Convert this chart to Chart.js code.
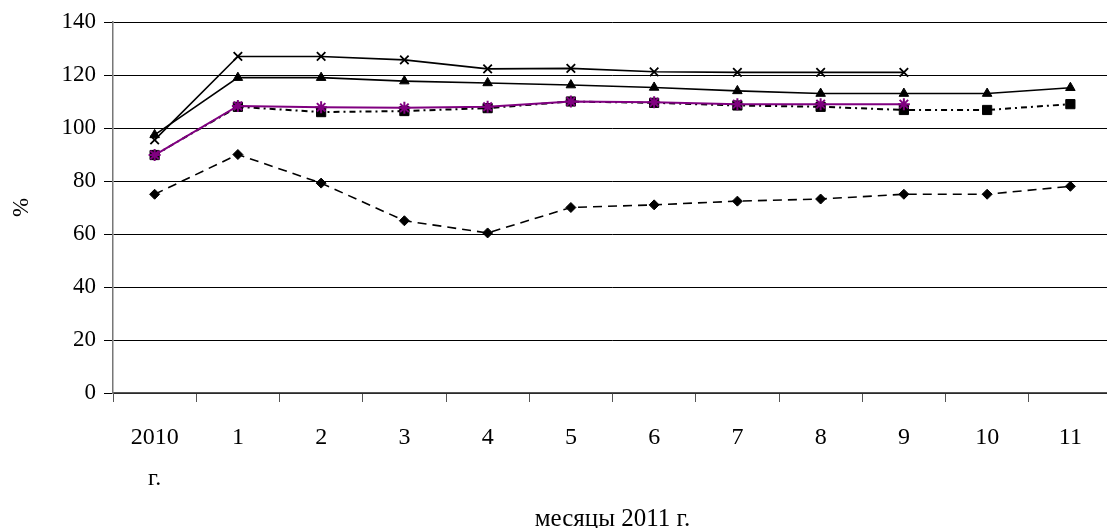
<!DOCTYPE html>
<html>
<head>
<meta charset="utf-8">
<script src="https://cdn.jsdelivr.net/npm/chart.js@4.4.0/dist/chart.umd.min.js"></script>
<style>
  html, body { margin: 0; padding: 0; background: #fff; overflow: hidden; }
  #wrap { width: 1120px; height: 528px; position: relative; }
</style>
</head>
<body>
<div id="wrap"><canvas id="c" width="1120" height="528"></canvas></div>
<script>
const categories = [['2010', 'г.'], '1', '2', '3', '4', '5', '6', '7', '8', '9', '10', '11'];
const seriesCross = [95.5, 127, 127, 125.7, 122.3, 122.5, 121.2, 121, 121, 121, null, null];
const seriesTriangle = [97.4, 119, 119, 117.7, 117, 116.2, 115.3, 114, 113, 113, 113, 115.2];
const seriesSquare = [89.8, 108, 106, 106.4, 107.5, 110, 109.5, 108.5, 108, 106.8, 106.8, 109];
const seriesStar = [89.8, 108.3, 107.8, 107.6, 108, 110, 109.7, 109, 109, 109, null, null];
const seriesDiamond = [75, 90, 79.2, 65, 60.4, 70, 71, 72.4, 73.2, 75, 75, 78];
const yTicks = [0, 20, 40, 60, 80, 100, 120, 140];

const FONT = "'Liberation Serif', 'Times New Roman', serif";

new Chart(document.getElementById('c'), {
  type: 'line',
  data: {
    labels: categories,
    datasets: [
      { data: seriesStar, borderColor: '#800080', backgroundColor: '#800080', borderWidth: 2,
        pointStyle: 'star', pointRadius: 6, pointBorderWidth: 2, pointBorderColor: '#800080', order: 0 },
      { data: seriesCross, borderColor: '#000', backgroundColor: '#000', borderWidth: 1.6,
        pointStyle: 'crossRot', pointRadius: 6, pointBorderWidth: 1.8, order: 1 },
      { data: seriesTriangle, borderColor: '#000', backgroundColor: '#000', borderWidth: 1.6,
        pointStyle: 'triangle', pointRadius: 5.5, pointBorderWidth: 1, order: 2 },
      { data: seriesSquare, borderColor: '#000', backgroundColor: '#000', borderWidth: 2,
        borderDash: [6, 4, 2, 4], pointStyle: 'rect', pointRadius: 6.5, pointBorderWidth: 1, order: 3 },
      { data: seriesDiamond, borderColor: '#000', backgroundColor: '#000', borderWidth: 1.6,
        borderDash: [9, 6], pointStyle: 'rectRot', pointRadius: 5, pointBorderWidth: 1, order: 4 }
    ]
  },
  options: {
    responsive: false,
    animation: false,
    devicePixelRatio: 1,
    spanGaps: false,
    layout: { padding: { top: 22, right: 5, left: 0, bottom: 0 } },
    plugins: { legend: { display: false }, tooltip: { enabled: false } },
    elements: { line: { tension: 0 } },
    scales: {
      x: {
        type: 'category',
        offset: true,
        grid: { display: true, offset: true, drawOnChartArea: false, drawTicks: true,
                tickLength: 9, color: '#555', lineWidth: 1 },
        border: { display: true, color: '#555', width: 1.5 },
        ticks: { font: { family: FONT, size: 24, lineHeight: 1.72 }, color: '#000', padding: 15,
                 maxRotation: 0, autoSkip: false },
        title: { display: true, text: 'месяцы 2011 г.', font: { family: FONT, size: 25, lineHeight: 1 },
                 color: '#000', padding: { top: 0, bottom: -4 } },
        afterFit: (s) => { s.height = 135; }
      },
      y: {
        min: 0, max: 140,
        afterBuildTicks: (s) => { s.ticks = yTicks.map(v => ({ value: v })); },
        grid: { color: '#000', lineWidth: 1, drawTicks: true, tickLength: 9 },
        border: { display: true, color: '#777', width: 1.5 },
        ticks: { font: { family: FONT, size: 23 }, color: '#000', padding: 8 },
        title: { display: true, text: '%', font: { family: FONT, size: 23, lineHeight: 1 }, color: '#000',
                 padding: { top: 10, bottom: 20 } },
        afterFit: (s) => { s.width = 113; }
      }
    }
  }
});
</script>
</body>
</html>
